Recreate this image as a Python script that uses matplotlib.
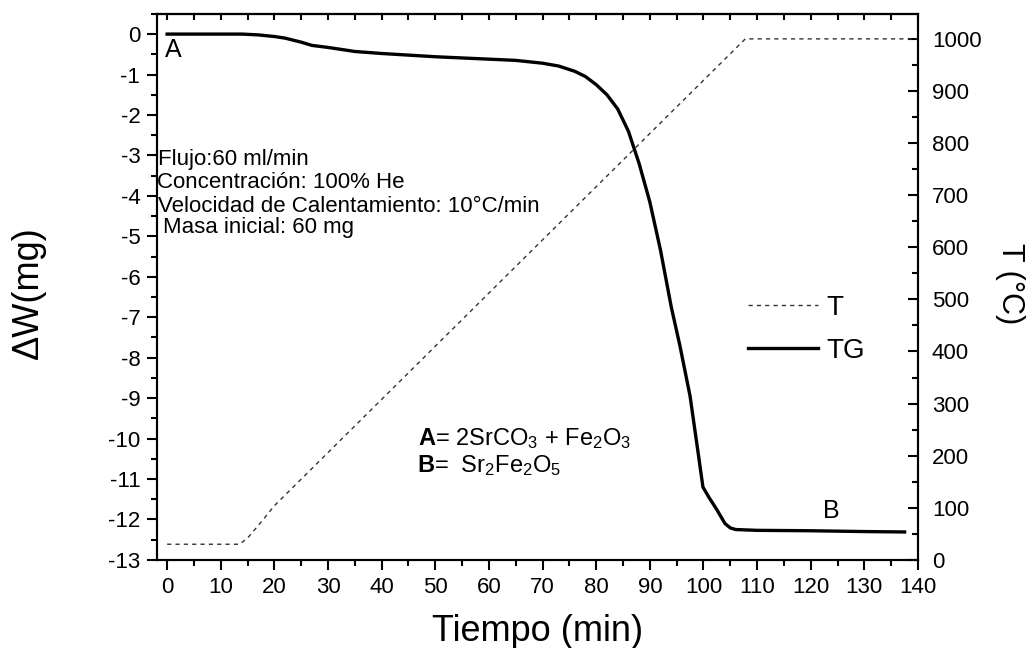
import matplotlib
matplotlib.use('Agg')
import matplotlib.pyplot as plt
from matplotlib.ticker import MultipleLocator

plt.rcParams['font.family'] = ['Liberation Sans', 'DejaVu Sans']
plt.rcParams['axes.unicode_minus'] = False
plt.rcParams['mathtext.fontset'] = 'custom'
plt.rcParams['mathtext.rm'] = 'Liberation Sans'
plt.rcParams['mathtext.bf'] = 'Liberation Sans:bold'
plt.rcParams['mathtext.it'] = 'Liberation Sans:italic'

# TG curve (perdida de masa, mg)
tiempo_tg = [0, 10, 14, 17, 20, 22, 25, 27, 30, 35, 40, 45, 50, 55, 60, 65, 70,
             73, 76, 78, 80, 82, 84, 86, 88, 90, 92, 94, 95.6, 97.5,
             99, 99.9, 101, 102.5, 104, 105, 106, 110, 120, 130, 137.5]
masa_tg = [0, 0, 0, -0.02, -0.06, -0.1, -0.2, -0.28, -0.33, -0.43, -0.48, -0.52,
           -0.56, -0.59, -0.62, -0.65, -0.72, -0.79, -0.92, -1.05, -1.25, -1.5,
           -1.85, -2.4, -3.2, -4.15, -5.35, -6.75, -7.7, -8.95, -10.35,
           -11.2, -11.45, -11.76, -12.1, -12.21, -12.25, -12.27, -12.28, -12.3,
           -12.31]

# Temperatura del horno (C)
tiempo_T = [0, 13.5, 15, 17, 20, 107.8, 140]
temp_T = [30, 30, 42, 66, 104, 1000, 1000]

info = ['Flujo:60 ml/min', 'Concentración: 100% He',
        'Velocidad de Calentamiento: 10°C/min', 'Masa inicial: 60 mg']

fig = plt.figure(figsize=(10.36, 6.48), dpi=100)
ax = fig.add_axes([0.1515, 0.136, 0.7346, 0.8426])
ax2 = ax.twinx()

lTG, = ax.plot(tiempo_tg, masa_tg, color='black', lw=2.4, label='TG')
lT, = ax2.plot(tiempo_T, temp_T, color='#333333', lw=1.0,
               linestyle=(0, (3, 3)), label='T')

ax.set_xlim(-1.9, 140)
ax.set_ylim(-13, 0.5)
ax2.set_ylim(0, 1048)

ax.xaxis.set_major_locator(MultipleLocator(10))
ax.xaxis.set_minor_locator(MultipleLocator(5))
ax.yaxis.set_major_locator(MultipleLocator(1))
ax.yaxis.set_minor_locator(MultipleLocator(0.5))
ax2.yaxis.set_major_locator(MultipleLocator(100))
ax2.yaxis.set_minor_locator(MultipleLocator(50))

for sp in ax.spines.values():
    sp.set_linewidth(1.5)
for sp in ax2.spines.values():
    sp.set_linewidth(1.5)

ax.tick_params(axis='x', which='major', direction='out', length=7, width=1.5,
               labelsize=16, pad=5, top=False)
ax.tick_params(axis='x', which='minor', direction='out', length=4, width=1.5,
               top=False)
ax.tick_params(axis='y', which='major', direction='out', length=7, width=1.5,
               labelsize=16, pad=5)
ax.tick_params(axis='y', which='minor', direction='out', length=4, width=1.5)
ax2.tick_params(axis='y', which='major', direction='in', length=7, width=1.5,
                labelsize=16, pad=10)
ax2.tick_params(axis='y', which='minor', direction='in', length=4, width=1.5)

# ticks de arriba hacia adentro
axtop = ax.secondary_xaxis('top')
axtop.xaxis.set_major_locator(MultipleLocator(5))
axtop.tick_params(axis='x', which='major', direction='in', length=4, width=1.5,
                  labeltop=False)
axtop.spines['top'].set_linewidth(1.5)

ax.set_xlabel('Tiempo (min)', fontsize=26, labelpad=12)
fig.text(28 / 1036, 1 - 293 / 648, 'ΔW(mg)', fontsize=26, rotation=90,
         ha='center', va='center')
fig.text(1010 / 1036, 1 - 284 / 648, 'T (°C)', fontsize=22, rotation=-90,
         ha='center', va='center')

ax.text(1.1, -0.40, 'A', fontsize=18, ha='center', va='center')
ax.text(123.8, -11.8, 'B', fontsize=18, ha='center', va='center')

ax.text(-1.7, -3.1, info[0], fontsize=16, ha='left', va='center')
ax.text(-1.9, -3.67, info[1], fontsize=16, ha='left', va='center')
ax.text(-1.7, -4.26, info[2], fontsize=16, ha='left', va='center')
ax.text(-0.75, -4.78, info[3], fontsize=16, ha='left', va='center')

ax.text(46.8, -10.15, r'$\mathbf{A}$= 2SrCO$_3$ + Fe$_2$O$_3$', fontsize=17,
        ha='left', va='baseline')
ax.text(46.6, -10.82, r'$\mathbf{B}$=  Sr$_2$Fe$_2$O$_5$', fontsize=17,
        ha='left', va='baseline')

ax2.legend([lT, lTG], ['T', 'TG'], loc='center left',
           bbox_to_anchor=(0.777, 0.422), frameon=False, fontsize=20,
           handlelength=2.5, handletextpad=0.3, labelspacing=0.6,
           borderpad=0, borderaxespad=0)

fig.savefig('out.png', dpi=100)
